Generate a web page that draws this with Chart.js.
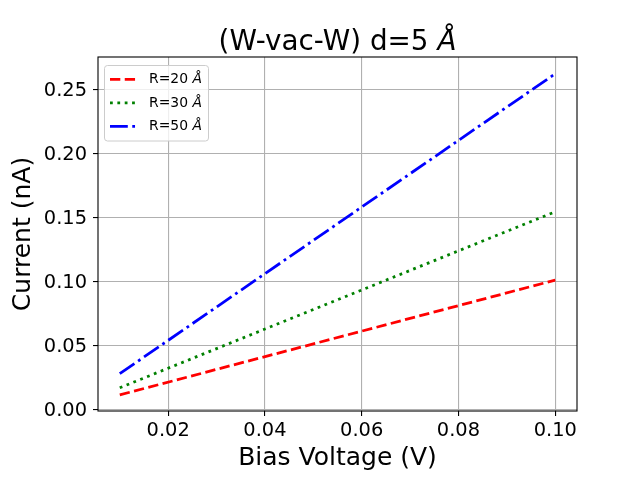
<!DOCTYPE html>
<html>
<head>
<meta charset="utf-8">
<script src="https://cdn.jsdelivr.net/npm/chart.js@4/dist/chart.umd.min.js"></script>
<style>
html,body{margin:0;padding:0;background:#fff;}
canvas{display:block;}
</style>
</head>
<body>
<canvas id="c" width="640" height="480"></canvas>
<script>
const voltage = [0.01, 0.1];
const currentR20 = [0.0112, 0.101];
const currentR30 = [0.0168, 0.1545];
const currentR50 = [0.0278, 0.2625];
const seriesLabels = ['R=20 Å', 'R=30 Å', 'R=50 Å'];
const seriesColors = ['#ff0000', '#008000', '#0000ff'];
const seriesDashes = [[10.3, 4.45], [2.78, 4.58], [17.8, 4.45, 2.78, 4.45]];
const xTicks = [0.02, 0.04, 0.06, 0.08, 0.10];
const yTicks = [0.00, 0.05, 0.10, 0.15, 0.20, 0.25];
const titleMain = '(W-vac-W) d=5 ';
const titleUnit = 'Å';
const xLabel = 'Bias Voltage (V)';
const yLabel = 'Current (nA)';

const FONT = "'DejaVu Sans', sans-serif";
const seriesValues = [currentR20, currentR30, currentR50];

const datasets = seriesValues.map((vals, i) => ({
  label: seriesLabels[i],
  data: voltage.map((v, j) => ({x: v, y: vals[j]})),
  borderColor: seriesColors[i],
  backgroundColor: seriesColors[i],
  borderWidth: 2.78,
  borderDash: seriesDashes[i],
  borderCapStyle: 'butt',
  pointRadius: 0,
  fill: false,
  tension: 0
}));

function drawMixed(ctx, parts, x, y, align) {
  let total = 0;
  const widths = parts.map(p => {
    ctx.font = (p.italic ? 'oblique ' : '') + p.size + 'px ' + FONT;
    const w = ctx.measureText(p.text).width;
    total += w;
    return w;
  });
  let cx = align === 'center' ? x - total / 2 : x;
  parts.forEach((p, i) => {
    ctx.font = (p.italic ? 'oblique ' : '') + p.size + 'px ' + FONT;
    ctx.textAlign = 'left';
    ctx.fillText(p.text, cx, y);
    cx += widths[i];
  });
}

const decor = {
  id: 'decor',
  afterDatasetsDraw(chart) {
    const ctx = chart.ctx;
    const a = chart.chartArea;
    ctx.save();
    ctx.strokeStyle = '#000';
    ctx.lineWidth = 1.1;
    ctx.setLineDash([]);
    ctx.strokeRect(a.left, a.top, a.right - a.left, a.bottom - a.top);

    ctx.fillStyle = '#000';
    ctx.textBaseline = 'alphabetic';
    drawMixed(ctx, [{text: titleMain, italic: false, size: 27.8}, {text: titleUnit, italic: true, size: 27.8}], (a.left + a.right) / 2, 49.5, 'center');

    ctx.font = '25px ' + FONT;
    ctx.textAlign = 'center';
    ctx.fillText(xLabel, (a.left + a.right) / 2, 465);

    ctx.save();
    ctx.translate(30, (a.top + a.bottom) / 2);
    ctx.rotate(-Math.PI / 2);
    ctx.textAlign = 'center';
    ctx.fillText(yLabel, 0, 0);
    ctx.restore();

    const lx = 104.5, ly = 65.5, lw = 104, lh = 75.5, r = 3;
    ctx.beginPath();
    ctx.moveTo(lx + r, ly);
    ctx.lineTo(lx + lw - r, ly);
    ctx.quadraticCurveTo(lx + lw, ly, lx + lw, ly + r);
    ctx.lineTo(lx + lw, ly + lh - r);
    ctx.quadraticCurveTo(lx + lw, ly + lh, lx + lw - r, ly + lh);
    ctx.lineTo(lx + r, ly + lh);
    ctx.quadraticCurveTo(lx, ly + lh, lx, ly + lh - r);
    ctx.lineTo(lx, ly + r);
    ctx.quadraticCurveTo(lx, ly, lx + r, ly);
    ctx.closePath();
    ctx.fillStyle = 'rgba(255,255,255,0.8)';
    ctx.fill();
    ctx.strokeStyle = '#cccccc';
    ctx.lineWidth = 1;
    ctx.stroke();

    const rows = [79.3, 102.8, 126.3];
    chart.data.datasets.forEach((ds, i) => {
      const yy = rows[i];
      ctx.beginPath();
      ctx.strokeStyle = ds.borderColor;
      ctx.lineWidth = 2.78;
      ctx.lineCap = 'butt';
      ctx.setLineDash(ds.borderDash);
      ctx.moveTo(110, yy);
      ctx.lineTo(137.8, yy);
      ctx.stroke();
      ctx.setLineDash([]);
      ctx.fillStyle = '#000';
      ctx.textBaseline = 'middle';
      const lbl = ds.label;
      drawMixed(ctx, [{text: lbl.slice(0, -1), italic: false, size: 13.9}, {text: lbl.slice(-1), italic: true, size: 13.9}], 149, yy + 0.5, 'left');
    });
    ctx.restore();
  }
};

new Chart(document.getElementById('c'), {
  type: 'line',
  data: {datasets},
  options: {
    responsive: false,
    animation: false,
    devicePixelRatio: 1,
    layout: {padding: {left: 0, right: 63, top: 57, bottom: 0}},
    plugins: {legend: {display: false}, title: {display: false}, tooltip: {enabled: false}},
    scales: {
      x: {
        type: 'linear',
        min: 0.0055,
        max: 0.1045,
        afterBuildTicks: s => { s.ticks = xTicks.map(v => ({value: v})); },
        afterFit: s => { s.height = 69; },
        ticks: {
          color: '#000',
          font: {family: FONT, size: 19.4},
          padding: 3.5,
          maxRotation: 0,
          autoSkip: false,
          callback: v => v.toFixed(2)
        },
        grid: {color: '#b0b0b0', lineWidth: 1.1, tickColor: '#000', tickLength: 5, drawTicks: true},
        border: {display: false}
      },
      y: {
        type: 'linear',
        min: -0.0014,
        max: 0.2756,
        afterBuildTicks: s => { s.ticks = yTicks.map(v => ({value: v})); },
        afterFit: s => { s.width = 98; },
        ticks: {
          color: '#000',
          font: {family: FONT, size: 19.4},
          padding: 6,
          labelOffset: 1.5,
          autoSkip: false,
          callback: v => v.toFixed(2)
        },
        grid: {color: '#b0b0b0', lineWidth: 1.1, tickColor: '#000', tickLength: 5, drawTicks: true},
        border: {display: false}
      }
    }
  },
  plugins: [decor]
});
</script>
</body>
</html>
